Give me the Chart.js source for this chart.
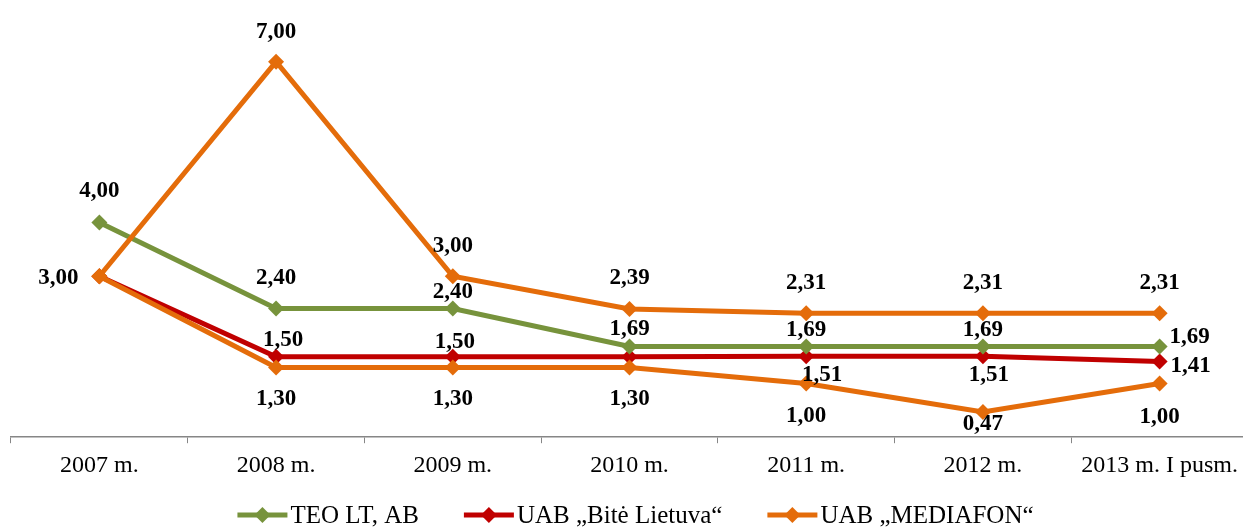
<!DOCTYPE html>
<html>
<head>
<meta charset="utf-8">
<script src="https://cdn.jsdelivr.net/npm/chart.js@4.4.0/dist/chart.umd.min.js"></script>
<style>
html, body { margin: 0; padding: 0; background: #fff; overflow: hidden; }
#wrap { width: 1256px; height: 527px; }
</style>
</head>
<body>
<div id="wrap"><canvas id="lineChart"></canvas></div>
<script>
// Duomenys
const years = ['2007 m.', '2008 m.', '2009 m.', '2010 m.', '2011 m.', '2012 m.', '2013 m. I pusm.'];
const teoValues = [4.00, 2.40, 2.40, 1.69, 1.69, 1.69, 1.69];
const biteValues = [3.00, 1.50, 1.50, 1.50, 1.51, 1.51, 1.41];
const mediafonValues = [3.00, 7.00, 3.00, 2.39, 2.31, 2.31, 2.31];
const mediafonLowValues = [3.00, 1.30, 1.30, 1.30, 1.00, 0.47, 1.00];

const GREEN = '#77933C';
const RED = '#C00000';
const ORANGE = '#E46C0A';
const SERIF = '"Liberation Serif", "Times New Roman", serif';

// label offsets (dx, dy) relative to each point, null = no label
const labelOffsets = [
    [[0, -32], [0, -30], [0, -16], [0, -17], [0, -16], [0, -16], [30, -9]],
    [null, [7, -17], [2, -15], null, [16, 19], [6, 19], [31, 5]],
    [[-41, 2], [0, -30], [0, -30], [0, -31], [0, -30], [0, -30], [0, -30]],
    [null, [0, 32], [0, 32], [0, 32], [0, 33], [0, 12], [0, 34]],
];

const valueLabels = {
    id: 'valueLabels',
    afterDatasetsDraw(chart) {
        const ctx = chart.ctx;
        ctx.save();
        ctx.font = 'bold 23px ' + SERIF;
        ctx.fillStyle = '#000';
        ctx.textAlign = 'center';
        ctx.textBaseline = 'middle';
        chart.data.datasets.forEach((ds, i) => {
            const meta = chart.getDatasetMeta(i);
            meta.data.forEach((pt, j) => {
                const off = labelOffsets[i][j];
                if (!off) return;
                const txt = ds.data[j].toFixed(2).replace('.', ',');
                ctx.fillText(txt, pt.x + off[0], pt.y + off[1]);
            });
        });
        ctx.restore();
    }
};

// legenda: linija su rombu + tekstas, tik pirmos trys serijos
const bottomLegend = {
    id: 'bottomLegend',
    afterDraw(chart) {
        const ctx = chart.ctx;
        const items = chart.data.datasets.slice(0, 3);
        const iconW = 50, textGap = 3, itemGap = 45, y = 515;
        ctx.save();
        ctx.font = '25px ' + SERIF;
        const widths = items.map(ds => ctx.measureText(ds.label).width);
        const total = widths.reduce((a, w) => a + iconW + textGap + w, 0) + itemGap * (items.length - 1);
        let x = (chart.chartArea.left + chart.chartArea.right) / 2 - total / 2 + 6;
        items.forEach((ds, i) => {
            ctx.strokeStyle = ds.borderColor;
            ctx.fillStyle = ds.borderColor;
            ctx.lineWidth = 5;
            ctx.beginPath();
            ctx.moveTo(x, y);
            ctx.lineTo(x + iconW, y);
            ctx.stroke();
            const cx = x + iconW / 2;
            ctx.beginPath();
            ctx.moveTo(cx, y - 8);
            ctx.lineTo(cx + 8, y);
            ctx.lineTo(cx, y + 8);
            ctx.lineTo(cx - 8, y);
            ctx.closePath();
            ctx.fill();
            ctx.fillStyle = '#000';
            ctx.textAlign = 'left';
            ctx.textBaseline = 'middle';
            ctx.fillText(ds.label, x + iconW + textGap, y + 1);
            x += iconW + textGap + widths[i] + itemGap;
        });
        ctx.restore();
    }
};

function makeDataset(label, data, color, order) {
    return {
        label: label,
        data: data,
        borderColor: color,
        backgroundColor: color,
        borderWidth: 5,
        pointStyle: 'rectRot',
        pointRadius: 8,
        pointHoverRadius: 8,
        pointBorderWidth: 0,
        tension: 0,
        clip: false,
        fill: false,
        order: order,
    };
}

const ctx = document.querySelector('#lineChart').getContext('2d');
const lineChart = new Chart(ctx, {
    type: 'line',
    data: {
        labels: years,
        datasets: [
            makeDataset('TEO LT, AB', teoValues, GREEN, 1),
            makeDataset('UAB „Bitė Lietuva“', biteValues, RED, 2),
            makeDataset('UAB „MEDIAFON“', mediafonValues, ORANGE, 0),
            makeDataset('UAB „MEDIAFON“ ', mediafonLowValues, ORANGE, 0),
        ],
    },
    options: {
        responsive: true,
        maintainAspectRatio: false,
        animation: false,
        layout: { padding: { left: 11, right: 2, top: 1, bottom: 39 } },
        scales: {
            x: {
                offset: true,
                grid: {
                    offset: true,
                    drawOnChartArea: false,
                    tickLength: 6,
                    color: '#868686',
                },
                border: { color: '#868686', width: 1.5 },
                ticks: {
                    color: '#000',
                    font: { family: SERIF, size: 24 },
                    padding: 8,
                    maxRotation: 0,
                },
            },
            y: {
                display: false,
                min: 0,
                max: 8,
            },
        },
        plugins: {
            tooltip: { enabled: false },
            legend: { display: false },
        },
    },
    plugins: [valueLabels, bottomLegend],
});
</script>
</body>
</html>
